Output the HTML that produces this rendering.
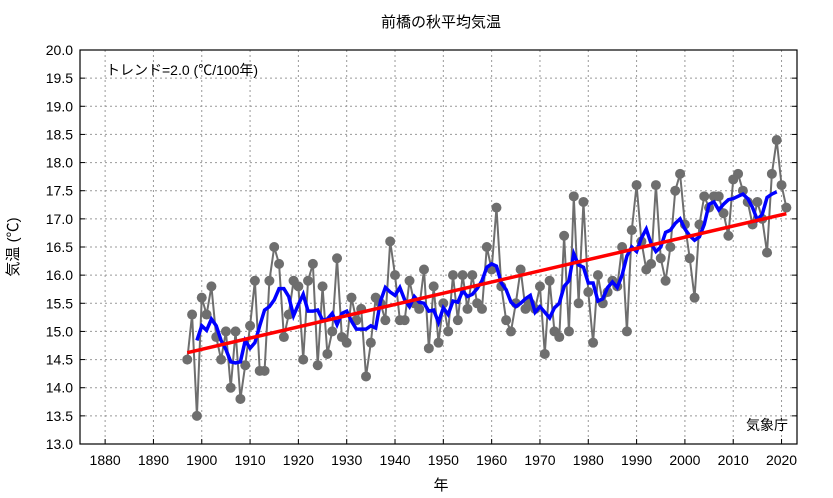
<!DOCTYPE html>
<html><head><meta charset="utf-8"><style>
body{margin:0;background:#fff;}
svg{display:block;font-family:"Liberation Sans","Noto Sans CJK JP",sans-serif;}
</style></head><body>
<svg id="chart" width="833" height="498" viewBox="0 0 833 498" xmlns="http://www.w3.org/2000/svg">
<rect x="0" y="0" width="833" height="498" fill="#fff"/>
<text x="441" y="27" font-size="15" text-anchor="middle" fill="#000">前橋の秋平均気温</text>
<g id="grid"></g>
<g id="axes"></g>
<g id="series"></g>
<rect x="80" y="50" width="717" height="394" fill="none" stroke="#000" stroke-width="1.2"/>
<text x="106" y="75" font-size="14" fill="#000">トレンド=2.0 (℃/100年)</text>
<text x="788" y="430" font-size="14" text-anchor="end" fill="#000">気象庁</text>
<text x="441" y="490" font-size="15" text-anchor="middle" fill="#000">年</text>
<text x="0" y="0" font-size="15" text-anchor="middle" fill="#000" transform="translate(18,247) rotate(-90)">気温 (℃)</text>
</svg>
<script>
const startYear = 1897;
const temps = [14.5,15.3,13.5,15.6,15.3,15.8,14.9,14.5,15.0,14.0,
15.0,13.8,14.4,15.1,15.9,14.3,14.3,15.9,16.5,16.2,
14.9,15.3,15.9,15.8,14.5,15.9,16.2,14.4,15.8,14.6,
15.0,16.3,14.9,14.8,15.6,15.2,15.4,14.2,14.8,15.6,
15.5,15.2,16.6,16.0,15.2,15.2,15.9,15.5,15.4,16.1,
14.7,15.8,14.8,15.5,15.0,16.0,15.2,16.0,15.4,16.0,
15.5,15.4,16.5,16.1,17.2,15.8,15.2,15.0,15.5,16.1,
15.4,15.5,15.4,15.8,14.6,15.9,15.0,14.9,16.7,15.0,
17.4,15.5,17.3,15.7,14.8,16.0,15.5,15.7,15.9,15.8,
16.5,15.0,16.8,17.6,16.6,16.1,16.2,17.6,16.3,15.9,
16.5,17.5,17.8,16.9,16.3,15.6,16.9,17.4,17.2,17.4,
17.4,17.1,16.7,17.7,17.8,17.5,17.3,16.9,17.3,17.0,
16.4,17.8,18.4,17.6,17.2];
const yTicks = [13.0,13.5,14.0,14.5,15.0,15.5,16.0,16.5,17.0,17.5,18.0,18.5,19.0,19.5,20.0];
const xTicks = [1880,1890,1900,1910,1920,1930,1940,1950,1960,1970,1980,1990,2000,2010,2020];

const NS="http://www.w3.org/2000/svg";
const L=80,R=797,T=50,B=444;
const xMin=1874.8,xMax=2023.2,yMin=13,yMax=20;
const X=v=>L+(v-xMin)/(xMax-xMin)*(R-L);
const Y=v=>B-(v-yMin)/(yMax-yMin)*(B-T);
function mk(tag,attrs,parent){const e=document.createElementNS(NS,tag);for(const k in attrs)e.setAttribute(k,attrs[k]);parent.appendChild(e);return e;}
const grid=document.getElementById('grid'),axes=document.getElementById('axes'),ser=document.getElementById('series');
yTicks.forEach(t=>{
  const g=mk('line',{x1:L,x2:R,y1:Y(t),y2:Y(t),stroke:'#999','stroke-width':1,'stroke-dasharray':'2,3'},grid);
  
  
  const tk=mk('line',{x1:L,x2:L+5,y1:Y(t),y2:Y(t),stroke:'#000'},axes);
  
  
  const tk2=mk('line',{x1:R-5,x2:R,y1:Y(t),y2:Y(t),stroke:'#000'},axes);
  
  
  const tx=mk('text',{x:L-7,y:Y(t)+5,'font-size':14,'text-anchor':'end',fill:'#000'},axes);
  tx.textContent=t.toFixed(1);
  
  
});
xTicks.forEach(t=>{
  const g=mk('line',{x1:X(t),x2:X(t),y1:T,y2:B,stroke:'#999','stroke-width':1,'stroke-dasharray':'2,3'},grid);
  
  
  const tk=mk('line',{x1:X(t),x2:X(t),y1:B-5,y2:B,stroke:'#000'},axes);
  
  
  const tx=mk('text',{x:X(t),y:B+21,'font-size':14,'text-anchor':'middle',fill:'#000'},axes);
  tx.textContent=t;
  
  
});
const years=temps.map((_,i)=>startYear+i);
// annual series
const pl=mk('polyline',{points:temps.map((v,i)=>X(years[i])+','+Y(v)).join(' '),fill:'none',stroke:'#6e6e6e','stroke-width':2},ser);


temps.forEach((v,i)=>{
  const c=mk('circle',{cx:X(years[i]),cy:Y(v),r:5,fill:'#6e6e6e'},ser);
  
  
});
// 5-year running mean
const rm=[];
for(let i=2;i<temps.length-2;i++){let s=0;for(let k=-2;k<=2;k++)s+=temps[i+k];rm.push(X(years[i])+','+Y(s/5));}
const bl=mk('polyline',{points:rm.join(' '),fill:'none',stroke:'#0000ff','stroke-width':3.5,'stroke-linejoin':'miter'},ser);


// trend line
const n=temps.length;let mx=0,my=0;years.forEach((y,i)=>{mx+=y;my+=temps[i];});mx/=n;my/=n;
let sxy=0,sxx=0;years.forEach((y,i)=>{sxy+=(y-mx)*(temps[i]-my);sxx+=(y-mx)*(y-mx);});
const b=sxy/sxx,a=my-b*mx;
const y0=years[0],y1=years[n-1];
const tl=mk('line',{x1:X(y0),y1:Y(a+b*y0),x2:X(y1),y2:Y(a+b*y1),stroke:'#ff0000','stroke-width':3.5},ser);


</script>
</body></html>
